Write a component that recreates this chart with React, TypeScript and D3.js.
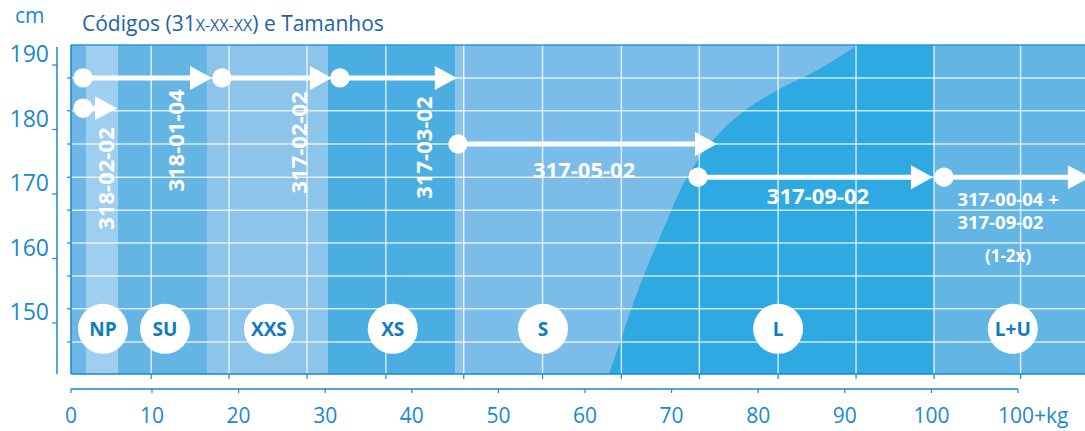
import React from 'react';
import * as d3 from 'd3';

const W = 1085;
const H = 431;

// axis values
const xTicks = [0, 10, 20, 30, 40, 50, 60, 70, 80, 90, 100, 110];
const xTickLabels = ['0', '10', '20', '30', '40', '50', '60', '70', '80', '90', '100', '100+kg'];
const yTicks = [190, 180, 170, 160, 150];
const yExtent = [142.1, 193.1];

// decorative grid (kg / cm)
const gridKg = [9.9, 18.9, 27.9, 37.0, 46.0, 55.1, 64.2, 73.2, 82.3, 91.3, 100.3, 110.3];
const gridCm = [188.0, 182.9, 177.75, 172.6, 167.5, 162.4, 157.3, 152.2, 147.05];

// background bands (kg edges)
const bandStart = [0, 1.85, 5.8, 16.35, 30.3, 45.0, 46.0, 100.3];
const bandEnd = [1.85, 5.8, 16.35, 30.3, 45.0, 46.0, 100.3, 125];
const bandColors = ['#6db6e5', '#9fcff0', '#64b5e4', '#8cc4ea', '#4baee2', '#88c3ea', '#7cbce8', '#63b5e4'];

// boundary between S and L
const curveKg = [62.2, 62.77, 66.58, 69.0, 72.1, 74.8, 78.5, 82.2, 86.8, 91.5, 94.5];
const curveCm = [140.0, 142.1, 156.67, 164.4, 173.3, 178.4, 183.0, 186.1, 189.2, 193.1, 195.8];
const lEndKg = 100.3;

// sizes
const sizeNames = ['NP', 'SU', 'XXS', 'XS', 'S', 'L', 'L+U'];
const sizeKg = [3.95, 11.5, 23.5, 37.8, 55.15, 82.3, 109.4];
const sizeCm = 149.1;

// arrows
const arrowFromKg = [1.48, 18.08, 31.7, 1.48, 45.33, 73.05, 101.45];
const arrowToKg = [16.93, 30.78, 45.2, 5.68, 75.24, 100.18, 118.3];
const arrowCm = [188.0, 188.0, 188.0, 183.3, 177.75, 172.6, 172.6];

// code labels
const vCodes = ['318-02-02', '318-01-04', '317-02-02', '317-03-02'];
const vCodeKg = [4.2, 12.7, 26.9, 41.3];
const vCodeCm = [172.4, 178.3, 178.0, 177.2];

const hCodes = ['317-05-02', '317-09-02'];
const hCodeKg = [59.9, 86.9];
const hCodeCm = [173.9, 169.8];

const smallCodes = ['317-00-04 +', '317-09-02'];
const smallCodeKg = 103.0;
const smallCodeCm = [169.3, 165.7];
const noteText = '(1-2x)';
const noteKg = 108.85;
const noteCm = 160.5;

const FONT = "'Open Sans', 'Noto Sans', sans-serif";
const AXIS = '#1789d0';
const LABEL = '#0f7bc2';

export default function App() {
  const x = d3.scaleLinear().domain([0, 10, 110]).range([71, 152, 1018]);
  const y = d3.scaleLinear().domain([150, 190]).range([323, 65]);

  const left = x(0);
  const top = y(yExtent[1]);
  const bottom = y(yExtent[0]);

  const curvePts: [number, number][] = curveKg.map((k, i) => [x(k), y(curveCm[i])]);
  const curveLine = d3.line().curve(d3.curveMonotoneY)(curvePts) || '';
  const lPath =
    curveLine +
    `L${x(lEndKg)},${y(curveCm[curveCm.length - 1])}L${x(lEndKg)},${y(curveCm[0])}Z`;

  const headLen = 22;
  const headHalf = 12;

  return (
    <svg
      width={W}
      height={H}
      viewBox={`0 0 ${W} ${H}`}
      style={{ position: 'absolute', left: 0, top: 0, display: 'block', background: '#fff' }}
      fontFamily={FONT}
    >
      <defs>
        <clipPath id="plot">
          <rect x={left} y={top} width={W - left} height={bottom - top} />
        </clipPath>
      </defs>

      {/* title */}
      <text x={15} y={23} fontSize={21} fill={AXIS}>cm</text>
      <text x={82} y={31} fontSize={21} fill="#1e63a6">
        Códigos (31<tspan fontSize={16}>X-XX-XX</tspan>) e Tamanhos
      </text>

      <g clipPath="url(#plot)">
        {bandStart.map((s, i) => (
          <rect
            key={'b' + i}
            x={x(s)}
            y={top}
            width={x(bandEnd[i]) - x(s)}
            height={bottom - top}
            fill={bandColors[i]}
          />
        ))}
        <path d={lPath} fill="#2fa9e2" />

        {/* grid */}
        {gridKg.map((g, i) => (
          <line
            key={'gx' + i}
            x1={x(g)}
            x2={x(g)}
            y1={top}
            y2={bottom}
            stroke="#fff"
            strokeOpacity={0.75}
            strokeWidth={1.5}
          />
        ))}
        {gridCm.map((g, i) => (
          <line
            key={'gy' + i}
            x1={left}
            x2={W}
            y1={y(g)}
            y2={y(g)}
            stroke="#fff"
            strokeOpacity={0.75}
            strokeWidth={1.5}
          />
        ))}

        {/* arrows */}
        {arrowFromKg.map((f, i) => {
          const x0 = x(f);
          const x1 = x(arrowToKg[i]);
          const yy = y(arrowCm[i]);
          return (
            <g key={'a' + i} fill="#fff">
              <line x1={x0} x2={x1 - headLen + 2} y1={yy} y2={yy} stroke="#fff" strokeWidth={5} />
              <path d={`M${x1},${yy}L${x1 - headLen},${yy - headHalf}L${x1 - headLen},${yy + headHalf}Z`} />
              <circle cx={x0} cy={yy} r={9.7} />
            </g>
          );
        })}

        {/* vertical code labels */}
        {vCodes.map((c, i) => (
          <text
            key={'v' + i}
            transform={`translate(${x(vCodeKg[i])},${y(vCodeCm[i])}) rotate(-90)`}
            textAnchor="middle"
            dominantBaseline="central"
            fontSize={22}
            fontWeight={700}
            fill="#fff"
          >
            {c}
          </text>
        ))}
        {hCodes.map((c, i) => (
          <text
            key={'h' + i}
            x={x(hCodeKg[i])}
            y={y(hCodeCm[i])}
            textAnchor="middle"
            dominantBaseline="central"
            fontSize={22}
            fontWeight={700}
            fill="#fff"
          >
            {c}
          </text>
        ))}
        {smallCodes.map((c, i) => (
          <text
            key={'s' + i}
            x={x(smallCodeKg)}
            y={y(smallCodeCm[i])}
            dominantBaseline="central"
            fontSize={18.5}
            fontWeight={700}
            fill="#fff"
          >
            {c}
          </text>
        ))}
        <text
          x={x(noteKg)}
          y={y(noteCm)}
          textAnchor="middle"
          dominantBaseline="central"
          fontSize={17}
          fontWeight={700}
          fill="#fff"
        >
          {noteText}
        </text>

        {/* size circles */}
        {sizeNames.map((n, i) => (
          <g key={'c' + i}>
            <circle cx={x(sizeKg[i])} cy={y(sizeCm)} r={25} fill="#fff" />
            <text
              x={x(sizeKg[i])}
              y={y(sizeCm)}
              textAnchor="middle"
              dominantBaseline="central"
              fontSize={19}
              fontWeight={700}
              fill={LABEL}
            >
              {n}
            </text>
          </g>
        ))}
      </g>

      {/* plot borders */}
      <line x1={left} x2={W} y1={top} y2={top} stroke="#2a98d8" strokeWidth={1.5} />
      <line x1={left} x2={W} y1={bottom} y2={bottom} stroke={AXIS} strokeWidth={1.5} />
      <line x1={left} x2={left} y1={top} y2={bottom} stroke={AXIS} strokeWidth={1.5} />
      {gridCm.map((g, i) => (
        <line key={'it' + i} x1={left - 4} x2={left} y1={y(g)} y2={y(g)} stroke={AXIS} strokeWidth={1.2} />
      ))}
      {gridKg.map((g, i) => (
        <line key={'bt' + i} x1={x(g)} x2={x(g)} y1={bottom} y2={bottom + 5} stroke={AXIS} strokeWidth={1.2} />
      ))}

      {/* y axis */}
      <line x1={57} x2={57} y1={top + 2} y2={bottom} stroke={AXIS} strokeWidth={1.5} />
      {yTicks.map((t) => (
        <g key={'yt' + t}>
          <line x1={52} x2={57} y1={y(t)} y2={y(t)} stroke={AXIS} strokeWidth={1.2} />
          <text x={49} y={y(t) - 3} textAnchor="end" fontSize={23} fill={AXIS}>
            {t}
          </text>
        </g>
      ))}

      {/* x axis */}
      <line x1={x(0)} x2={x(110)} y1={389} y2={389} stroke={AXIS} strokeWidth={1.5} />
      {xTicks.map((t, i) => (
        <g key={'xt' + t}>
          <line x1={x(t)} x2={x(t)} y1={389} y2={393} stroke={AXIS} strokeWidth={1.2} />
          <text
            x={x(t)}
            y={423}
            textAnchor={i === xTicks.length - 1 ? 'start' : 'middle'}
            dx={i === xTicks.length - 1 ? -20 : 0}
            fontSize={21}
            fill={AXIS}
          >
            {xTickLabels[i]}
          </text>
        </g>
      ))}
    </svg>
  );
}
